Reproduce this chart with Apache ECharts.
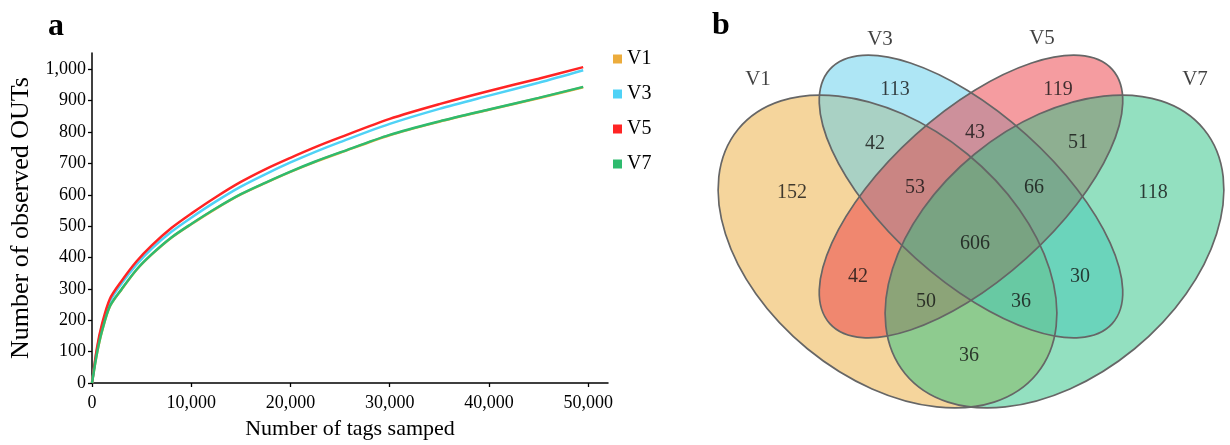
<!DOCTYPE html>
<html><head><meta charset="utf-8">
<script src="https://cdn.jsdelivr.net/npm/echarts@6/dist/echarts.min.js"></script>
<style>html,body{margin:0;padding:0;background:#fff}#c{width:1230px;height:445px}</style>
</head><body><div id="c"></div>
<script>
// ---- Panel a: rarefaction curves ----
const tags   = [0,500,1000,1800,3000,4500,6000,8000,10000,12500,15000,17500,20000,22500,25000,30000,35000,40000,45000,49500];
const otusV1 = [0,94,164,244,299,361,409,463,506,556,601,638,673,705,734,790,833,871,908,943];
const otusV3 = [0,106,180,260,318,378,428,482,527,579,626,666,703,737,768,826,874,916,957,997];
const otusV5 = [0,112,187,268,326,388,438,494,540,593,641,682,718,752,783,842,889,931,970,1007];
const otusV7 = [0,95,165,245,300,362,410,464,507,557,602,639,674,706,735,791,834,872,909,944];
const sampleNames = ['V1','V3','V5','V7'];
const yTickValues = [0,100,200,300,400,500,600,700,800,900,1000];
const xTickValues = [0,10000,20000,30000,40000,50000];

// ---- Panel b: Venn counts ----
const vennRegions = ['V1','V3','V5','V7','V1&V3','V3&V5','V5&V7','V1&V3&V5','V1&V3&V5&V7','V3&V5&V7','V1&V5','V1&V5&V7','V1&V3&V7','V3&V7','V1&V7'];
const vennCounts  = [152,113,119,118,42,43,51,53,606,66,42,50,36,30,36];

// ---- layout (panel b local units, not data) ----
const vennLabelXY = [[92,193],[195,90],[358,90],[453,193],[175,144],[275,133],[378,143],[215,188],[275,244],[334,188],[158,277],[226,302],[321,302],[380,277],[269,356]];
const setNameXY   = [[58,79],[180,39],[342,38],[495,79]];
const vennShapes  = [[187.5,251.5,193,126,-39.3],[271,196.5,190,83,-42],[271,196.5,190,83,42],[354.5,251.5,193,126,39.3]];
const vennFills   = ['rgba(235,171,57,0.5)','rgba(93,205,235,0.5)','rgba(235,57,65,0.5)','rgba(39,193,129,0.5)'];
const lineColors  = ['#ECAC3C','#4FD2F6','#FF2424','#2EBB6E'];
const SERIF = '"Liberation Serif","Times New Roman",serif';

const curves = [otusV1, otusV3, otusV5, otusV7];
const fmt = v => Number(v).toLocaleString('en-US');

function vennItem(fillMode){
  return function(params, api){
    const c = api.coord([api.value(0), api.value(1)]);
    const s = api.size([api.value(2), api.value(3)]);
    return {
      type:'ellipse', x:c[0], y:c[1], rotation: api.value(4)*Math.PI/180,
      shape:{cx:0, cy:0, rx:Math.abs(s[0]), ry:Math.abs(s[1])},
      style: fillMode ? {fill: vennFills[params.dataIndex], stroke: null}
                      : {fill: 'none', stroke: '#666', lineWidth: 1.7},
      silent: true
    };
  };
}

const chart = echarts.init(document.getElementById('c'), null, {renderer:'canvas'});
chart.setOption({
  animation:false,
  backgroundColor:'#fff',
  title:[
    {text:'a', left:43, top:6, textStyle:{fontFamily:SERIF, fontWeight:'bold', fontSize:32, color:'#000'}},
    {text:'b', left:707, top:5, textStyle:{fontFamily:SERIF, fontWeight:'bold', fontSize:32, color:'#000'}}
  ],
  legend:{
    data: sampleNames, orient:'vertical', left:608, top:44, icon:'rect',
    itemWidth:9, itemHeight:9, itemGap:15,
    textStyle:{fontFamily:SERIF, fontSize:20, color:'#000'}
  },
  grid:[
    {left:92, top:53, width:516, height:332},
    {left:700, top:0, width:530, height:445}
  ],
  xAxis:[
    {type:'value', gridIndex:0, min:0, max:52000,
     name:'Number of tags samped', nameLocation:'middle', nameGap:35,
     nameTextStyle:{fontFamily:SERIF, fontSize:22, color:'#000'},
     axisLine:{lineStyle:{color:'#000', width:1.5}},
     axisTick:{show:true, length:4, customValues:xTickValues, lineStyle:{color:'#000', width:1.3}},
     axisLabel:{customValues:xTickValues, formatter:fmt, margin:11, fontFamily:SERIF, fontSize:18, color:'#000'},
     splitLine:{show:false}},
    {type:'value', gridIndex:1, min:0, max:530, show:false}
  ],
  yAxis:[
    {type:'value', gridIndex:0, min:0, max:1052,
     name:'Number of observed OUTs', nameLocation:'middle', nameGap:58,
     nameTextStyle:{fontFamily:SERIF, fontSize:26, color:'#000'},
     axisLine:{show:true, lineStyle:{color:'#000', width:1.5}},
     axisTick:{show:true, length:4, customValues:yTickValues, lineStyle:{color:'#000', width:1.3}},
     axisLabel:{customValues:yTickValues, formatter:fmt, margin:6, fontFamily:SERIF, fontSize:18, color:'#000'},
     splitLine:{show:false}},
    {type:'value', gridIndex:1, min:0, max:445, inverse:true, show:false}
  ],
  series: [
    ...sampleNames.map((n,i)=>({
      name:n, type:'line', xAxisIndex:0, yAxisIndex:0,
      data: tags.map((t,j)=>[t, curves[i][j]]),
      showSymbol:false, symbol:'none', smooth:0.3,
      color: lineColors[i],
      lineStyle:{width:2.5, color: lineColors[i]}, z:2+i
    })),
    {type:'custom', xAxisIndex:1, yAxisIndex:1, renderItem:vennItem(true), data:vennShapes, z:1, silent:true},
    {type:'custom', xAxisIndex:1, yAxisIndex:1, renderItem:vennItem(false), data:vennShapes, z:2, silent:true},
    {type:'scatter', xAxisIndex:1, yAxisIndex:1, symbolSize:0, z:5, silent:true,
     data: vennLabelXY.map((p,i)=>({value:p, name:vennRegions[i]})),
     label:{show:true, position:'inside', formatter: p => String(vennCounts[p.dataIndex]),
            fontFamily:SERIF, fontSize:20, color:'#111'}},
    {type:'scatter', xAxisIndex:1, yAxisIndex:1, symbolSize:0, z:5, silent:true,
     data: setNameXY.map((p,i)=>({value:p, name:sampleNames[i]})),
     label:{show:true, position:'inside', formatter: p => sampleNames[p.dataIndex],
            fontFamily:SERIF, fontSize:21, color:'#111'}}
  ]
});
</script></body></html>
